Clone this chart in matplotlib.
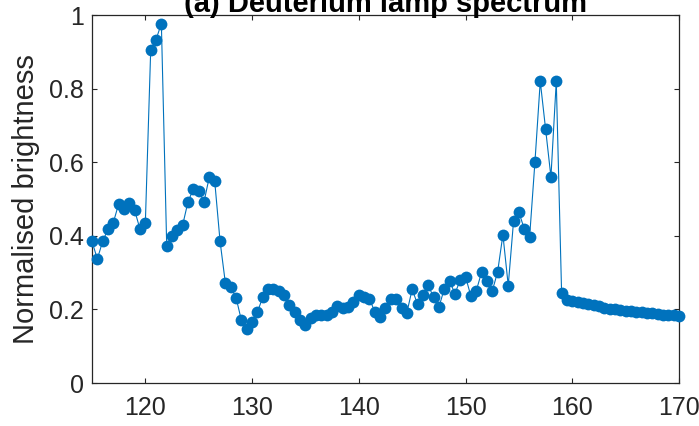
import matplotlib
matplotlib.use('Agg')
import matplotlib.pyplot as plt
import numpy as np

plt.rcParams['font.family'] = ['Liberation Sans', 'DejaVu Sans']

# wavelength (nm), 0.5 nm steps
wavelength = np.arange(115, 170.01, 0.5)

brightness = [
    0.385, 0.337, 0.385, 0.418, 0.436, 0.487, 0.473, 0.489, 0.469, 0.418,   # 115 - 119.5
    0.436, 0.904, 0.933, 0.977, 0.373, 0.400, 0.416, 0.430, 0.493, 0.527,   # 120 - 124.5
    0.521, 0.493, 0.561, 0.548, 0.385, 0.271, 0.260, 0.232, 0.170, 0.146,   # 125 - 129.5
    0.167, 0.193, 0.233, 0.255, 0.256, 0.249, 0.239, 0.212, 0.192, 0.170,   # 130 - 134.5
    0.158, 0.176, 0.185, 0.186, 0.186, 0.194, 0.208, 0.203, 0.206, 0.221,   # 135 - 139.5
    0.239, 0.235, 0.228, 0.194, 0.180, 0.203, 0.229, 0.228, 0.203, 0.191,   # 140 - 144.5
    0.255, 0.214, 0.238, 0.266, 0.233, 0.206, 0.255, 0.278, 0.243, 0.279,   # 145 - 149.5
    0.289, 0.236, 0.250, 0.301, 0.278, 0.250, 0.301, 0.403, 0.265, 0.441,   # 150 - 154.5
    0.464, 0.419, 0.396, 0.600, 0.820, 0.690, 0.560, 0.820, 0.244, 0.226,   # 155 - 159.5
    0.222, 0.219, 0.217, 0.215, 0.212, 0.208, 0.204, 0.202, 0.201, 0.199,   # 160 - 164.5
    0.197, 0.196, 0.194, 0.193, 0.191, 0.190, 0.188, 0.186, 0.185, 0.184,   # 165 - 169.5
    0.182,                                                                  # 170
]

xticks = [120, 130, 140, 150, 160, 170]
yticks = [0, 0.2, 0.4, 0.6, 0.8, 1]
ytick_labels = ['0', '0.2', '0.4', '0.6', '0.8', '1']

dark = '#262626'
blue = '#0072BD'

fig = plt.figure(figsize=(6.99, 4.26), dpi=100)
ax = fig.add_axes([0.1316, 0.1009, 0.8398, 0.8638])

ax.plot(wavelength, brightness, '-o', color=blue, lw=0.8, markersize=8.5,
        markeredgewidth=0, clip_on=False, zorder=5)

ax.set_xlim(115, 170)
ax.set_ylim(0, 1)
ax.set_xticks(xticks)
ax.set_yticks(yticks)
ax.set_yticklabels(ytick_labels)

for s in ax.spines.values():
    s.set_color(dark)
    s.set_linewidth(0.9)

ax.tick_params(direction='in', top=True, right=True, length=3.5, width=0.8,
               color=dark, labelcolor=dark, labelsize=18)
ax.tick_params(axis='x', pad=9)
ax.tick_params(axis='y', pad=6)

ax.set_ylabel('Normalised brightness', fontsize=21, color=dark, labelpad=6)
ax.set_title('(a) Deuterium lamp spectrum', fontsize=21, fontweight='bold',
             color='black', pad=2)

fig.savefig('out.png', dpi=100)
